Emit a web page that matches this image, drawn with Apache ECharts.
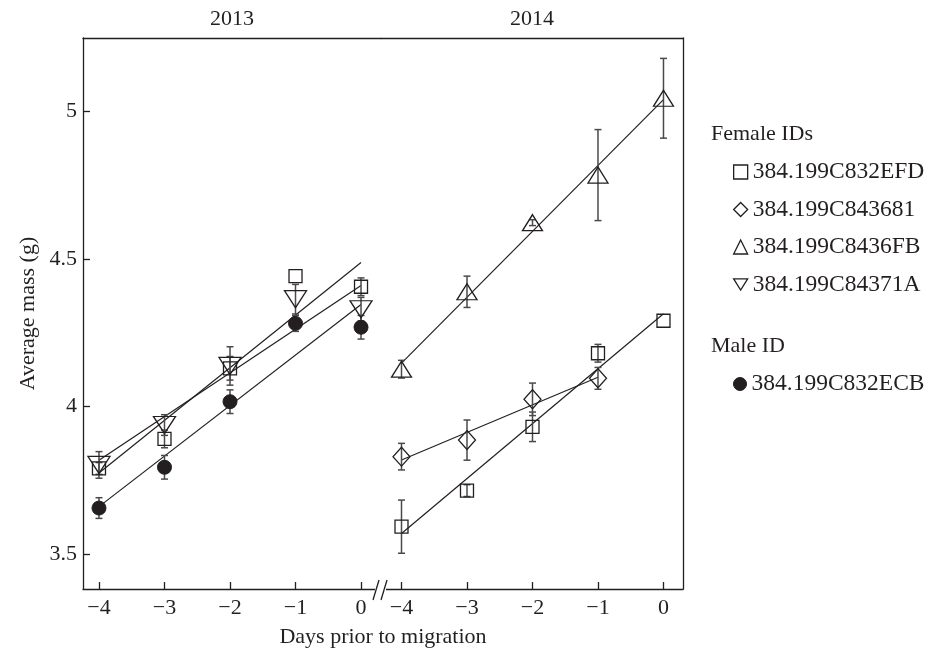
<!DOCTYPE html>
<html>
<head>
<meta charset="utf-8">
<script src="https://cdn.jsdelivr.net/npm/echarts@6/dist/echarts.min.js"></script>
<style>html,body{margin:0;padding:0;background:#fff}#c{width:928px;height:651px}</style>
</head>
<body>
<div id="c"></div>
<script>
// ---- data ----
const days = [-4, -3, -2, -1, 0];
const days681 = [-4, -3, -2, -1];
const xTicks = [-4, -3, -2, -1, 0];
const yTicks = [3.5, 4, 4.5, 5];
const years = ['2013', '2014'];
const femaleIDs = ['384.199C832EFD', '384.199C843681', '384.199C8436FB', '384.199C84371A'];
const maleID = '384.199C832ECB';

// 2013
const efd2013 = [3.791, 3.891, 4.130, 4.442, 4.406];
const efd2013Err = [0.02, 0.03, 0.04, 0.0, 0.03];
const a71_2013 = [3.803, 3.938, 4.138, 4.364, 4.330];
const a71_2013Err = [0.045, 0.035, 0.065, 0.05, 0.04];
const ecb2013 = [3.657, 3.795, 4.017, 4.282, 4.269];
const ecb2013Err = [0.035, 0.04, 0.04, 0.027, 0.04];
// 2014
const efd2014 = [3.594, 3.716, 3.932, 4.181, 4.291];
const efd2014Err = [0.09, 0.02, 0.05, 0.03, 0.0];
const d681_2014 = [3.831, 3.887, 4.025, 4.096];
const d681_2014Err = [0.045, 0.068, 0.055, 0.037];
const fb2014 = [4.127, 4.389, 4.623, 4.784, 5.044];
const fb2014Err = [0.03, 0.053, 0.01, 0.154, 0.135];

// ---- styling ----
const INK = '#231f20';
const BAR = '#4a4a4a';
const FONT = 'Liberation Serif';
const FS = 22;

function pts(xs, ys) { return xs.map((x, i) => [x, ys[i]]); }
function errs(xs, ys, es) {
  const out = [];
  xs.forEach((x, i) => { if (es[i] > 0) out.push([x, ys[i] - es[i], ys[i] + es[i]]); });
  return out;
}
function fit(xs, ys) {
  const n = xs.length;
  const mx = xs.reduce((a, b) => a + b, 0) / n;
  const my = ys.reduce((a, b) => a + b, 0) / n;
  let sxy = 0, sxx = 0;
  for (let i = 0; i < n; i++) { sxy += (xs[i] - mx) * (ys[i] - my); sxx += (xs[i] - mx) ** 2; }
  const b = sxy / sxx, a = my - b * mx;
  const x0 = Math.min(...xs), x1 = Math.max(...xs);
  return [[x0, a + b * x0], [x1, a + b * x1]];
}
function renderErr(params, api) {
  const x = api.value(0);
  const p1 = api.coord([x, api.value(1)]);
  const p2 = api.coord([x, api.value(2)]);
  const w = 3.5;
  const st = { stroke: BAR, lineWidth: 1.5 };
  return { type: 'group', children: [
    { type: 'line', shape: { x1: p1[0], y1: p1[1], x2: p2[0], y2: p2[1] }, style: st },
    { type: 'line', shape: { x1: p1[0] - w, y1: p1[1], x2: p1[0] + w, y2: p1[1] }, style: st },
    { type: 'line', shape: { x1: p2[0] - w, y1: p2[1], x2: p2[0] + w, y2: p2[1] }, style: st }
  ]};
}
const fmtX = v => (v < 0 ? '\u2212' + Math.abs(v) : String(v));

const open = { color: 'rgba(0,0,0,0)', borderColor: INK, borderWidth: 1.3, opacity: 1 };
const filled = { color: INK, borderColor: INK, borderWidth: 1, opacity: 1 };
const sym = {
  [femaleIDs[0]]: { symbol: 'rect', symbolSize: 13, symbolRotate: 0, itemStyle: open },
  [femaleIDs[1]]: { symbol: 'diamond', symbolSize: [17, 19], symbolRotate: 0, itemStyle: open },
  [femaleIDs[2]]: { symbol: 'triangle', symbolSize: [20, 16], symbolRotate: 0, itemStyle: open },
  [femaleIDs[3]]: { symbol: 'triangle', symbolSize: [22, 17], symbolRotate: 180, itemStyle: open },
  [maleID]: { symbol: 'circle', symbolSize: 14, symbolRotate: 0, itemStyle: filled }
};

const series = [];
function addGroup(name, xs, ys, es, panel) {
  const xi = panel * 2, yi = panel;
  series.push({ type: 'line', name: name + ' fit', xAxisIndex: xi, yAxisIndex: yi, data: fit(xs, ys),
    symbol: 'none', lineStyle: { color: INK, width: 1.2 }, z: 2, silent: true });
  series.push({ type: 'custom', name: name + ' err', xAxisIndex: xi, yAxisIndex: yi, data: errs(xs, ys, es),
    renderItem: renderErr, z: 3, silent: true });
  series.push(Object.assign({ type: 'scatter', name: name, xAxisIndex: xi, yAxisIndex: yi, data: pts(xs, ys), z: 4,
    emphasis: { disabled: true } }, sym[name]));
}
addGroup(femaleIDs[0], days, efd2013, efd2013Err, 0);
addGroup(femaleIDs[3], days, a71_2013, a71_2013Err, 0);
addGroup(maleID, days, ecb2013, ecb2013Err, 0);
addGroup(femaleIDs[0], days, efd2014, efd2014Err, 1);
addGroup(femaleIDs[1], days681, d681_2014, d681_2014Err, 1);
addGroup(femaleIDs[2], days, fb2014, fb2014Err, 1);

const lineStyle = { color: INK, width: 1.3 };
const txt = { fontFamily: FONT, fontSize: FS, color: INK, fontWeight: 'normal' };
const legTxt = { fontFamily: FONT, fontSize: 23.5, color: INK, fontWeight: 'normal' };
const YMIN = 3.383, YMAX = 5.248;
function bottomX(grid, min, max) {
  return { type: 'value', gridIndex: grid, position: 'bottom', min: min, max: max,
    axisLine: { show: true, onZero: false, lineStyle: lineStyle },
    axisTick: { show: true, inside: true, length: 7, customValues: xTicks, lineStyle: lineStyle },
    axisLabel: { customValues: xTicks, formatter: fmtX, margin: 8, fontFamily: FONT, fontSize: FS, color: INK },
    splitLine: { show: false } };
}
function topX(grid, min, max, name) {
  return { type: 'value', gridIndex: grid, position: 'top', min: min, max: max,
    axisLine: { show: true, onZero: false, lineStyle: lineStyle },
    axisTick: { show: false }, axisLabel: { show: false }, splitLine: { show: false },
    name: name, nameLocation: 'middle', nameGap: 8, nameTextStyle: txt };
}

const legendItem = (name) => ({ name: name, icon: sym[name].symbol === 'triangle' && sym[name].symbolRotate === 180 ? 'path://M0,0 L20,0 L10,16 Z' : sym[name].symbol, itemStyle: sym[name].itemStyle });

const option = {
  animation: false,
  backgroundColor: '#fff',
  textStyle: { fontFamily: FONT },
  grid: [
    { left: 83, top: 38, width: 298, height: 551 },
    { left: 381, top: 38, width: 302, height: 551 }
  ],
  xAxis: [
    bottomX(0, -4.244, 0.305),
    topX(0, -4.244, 0.305, years[0]),
    bottomX(1, -4.313, 0.298),
    topX(1, -4.313, 0.298, years[1])
  ],
  yAxis: [
    { type: 'value', gridIndex: 0, position: 'left', min: YMIN, max: YMAX,
      axisLine: { show: true, onZero: false, lineStyle: lineStyle },
      axisTick: { show: true, inside: true, length: 7, customValues: yTicks, lineStyle: lineStyle },
      axisLabel: { customValues: yTicks, margin: 6, fontFamily: FONT, fontSize: FS, color: INK },
      splitLine: { show: false },
      name: 'Average mass (g)', nameLocation: 'middle', nameGap: 44, nameTextStyle: txt },
    { type: 'value', gridIndex: 1, position: 'right', min: YMIN, max: YMAX,
      axisLine: { show: true, onZero: false, lineStyle: lineStyle },
      axisTick: { show: false }, axisLabel: { show: false }, splitLine: { show: false } }
  ],
  title: [
    { text: 'Days prior to migration', left: 383, textAlign: 'center', top: 626, padding: 0, textStyle: txt },
    { text: 'Female IDs', left: 711, top: 123, padding: 0, textStyle: txt },
    { text: 'Male ID', left: 711, top: 335, padding: 0, textStyle: txt }
  ],
  legend: [
    { data: femaleIDs.map(legendItem), orient: 'vertical', left: 733, top: 160, padding: 0,
      itemWidth: 14, itemHeight: 14, itemGap: 13.5, textStyle: legTxt, selectedMode: false },
    { data: [legendItem(maleID)], orient: 'vertical', left: 733, top: 372, padding: 0,
      itemWidth: 13, itemHeight: 13, textStyle: legTxt, selectedMode: false }
  ],
  graphic: [
    { type: 'rect', z: 100, shape: { x: 375, y: 584, width: 11, height: 10 }, style: { fill: '#fff' } },
    { type: 'line', z: 101, shape: { x1: 373, y1: 600, x2: 379, y2: 580 }, style: { stroke: INK, lineWidth: 1.3 } },
    { type: 'line', z: 101, shape: { x1: 381, y1: 600, x2: 387, y2: 580 }, style: { stroke: INK, lineWidth: 1.3 } }
  ],
  series: series
};
echarts.init(document.getElementById('c'), null, { renderer: 'canvas' }).setOption(option);
</script>
</body>
</html>
